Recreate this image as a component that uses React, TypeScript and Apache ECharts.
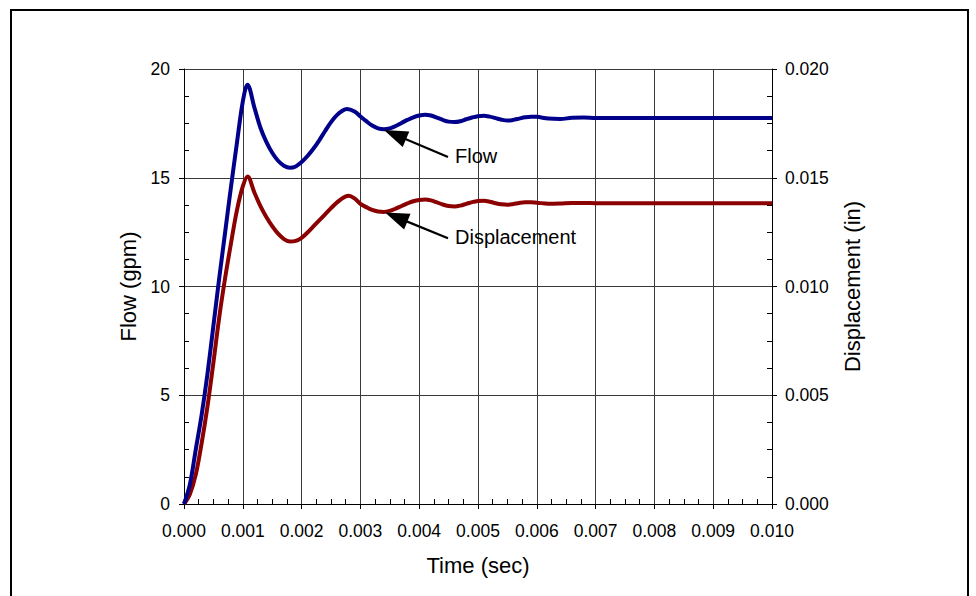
import React, { useEffect, useRef } from "react";
import * as echarts from "echarts";

// Time (sec)
const timeFlow: number[] = [
  0, 0.0001, 0.0002, 0.0003, 0.0004, 0.0005, 0.0006, 0.0007, 0.0008, 0.0009, 0.001, 0.00108,
  0.0012, 0.0013, 0.0014, 0.0015, 0.0016, 0.0017, 0.0018, 0.0019, 0.002, 0.0021, 0.0022,
  0.0023, 0.0024, 0.0025, 0.0026, 0.0027, 0.00277, 0.0029, 0.003, 0.0031, 0.0032, 0.0033, 0.0034,
  0.0035, 0.0036, 0.0037, 0.0038, 0.0039, 0.004, 0.0041, 0.0042, 0.0043, 0.0044, 0.0045, 0.0046,
  0.0047, 0.0048, 0.0049, 0.005, 0.0051, 0.0052, 0.0053, 0.0054, 0.0055, 0.0056, 0.0057, 0.0058,
  0.0059, 0.006, 0.0062, 0.0064, 0.0066, 0.0068, 0.007, 0.0075, 0.008, 0.009, 0.01,
];
// Flow (gpm)
const flowValues: number[] = [
  0, 0.9, 2.5, 4.1, 6.0, 8.2, 10.4, 12.5, 14.6, 16.6, 18.5, 19.28,
  18.2, 17.3, 16.65, 16.15, 15.78, 15.55, 15.46, 15.52, 15.72, 16.0, 16.33,
  16.72, 17.15, 17.56, 17.88, 18.09, 18.16, 18.05, 17.82, 17.6, 17.4, 17.27, 17.23,
  17.27, 17.38, 17.52, 17.66, 17.78, 17.86, 17.9, 17.86, 17.76, 17.66, 17.58, 17.56,
  17.6, 17.69, 17.77, 17.83, 17.85, 17.81, 17.74, 17.67, 17.63, 17.66, 17.72, 17.78,
  17.81, 17.8, 17.72, 17.7, 17.76, 17.77, 17.75, 17.75, 17.75, 17.75, 17.75,
];

const timeDisp: number[] = [
  0, 0.0001, 0.0002, 0.0003, 0.0004, 0.0005, 0.0006, 0.0007, 0.0008, 0.0009, 0.001, 0.00108,
  0.0012, 0.0013, 0.0014, 0.0015, 0.0016, 0.0017, 0.0018, 0.0019, 0.002, 0.0021, 0.0022,
  0.0023, 0.0024, 0.0025, 0.0026, 0.0027, 0.0028, 0.0029, 0.003, 0.0031, 0.0032, 0.0033, 0.0034,
  0.0035, 0.0036, 0.0037, 0.0038, 0.0039, 0.004, 0.0041, 0.0042, 0.0043, 0.0044, 0.0045, 0.0046,
  0.0047, 0.0048, 0.0049, 0.005, 0.0051, 0.0052, 0.0053, 0.0054, 0.0055, 0.0056, 0.0057, 0.0058,
  0.0059, 0.006, 0.0062, 0.0064, 0.0066, 0.0068, 0.007, 0.0075, 0.008, 0.009, 0.01,
];
// Displacement (in)
const dispValues: number[] = [
  0, 0.00045, 0.00135, 0.0028, 0.0045, 0.0065, 0.0086, 0.0104, 0.012, 0.0135, 0.0146, 0.01506,
  0.0143, 0.0137, 0.0132, 0.01278, 0.01243, 0.01218, 0.01207, 0.0121, 0.01224, 0.01248, 0.01276,
  0.01304, 0.01332, 0.0136, 0.01386, 0.01407, 0.01417, 0.01405, 0.0138, 0.01365, 0.01352, 0.01345, 0.01343,
  0.01348, 0.01358, 0.0137, 0.01382, 0.01392, 0.01398, 0.014, 0.01396, 0.01387, 0.01377, 0.0137, 0.01368,
  0.01372, 0.0138, 0.01388, 0.01393, 0.01394, 0.0139, 0.01383, 0.01378, 0.01376, 0.01379, 0.01384, 0.01387,
  0.01387, 0.01385, 0.01381, 0.01382, 0.01384, 0.01384, 0.01383, 0.01383, 0.01383, 0.01383, 0.01383,
];

// Annotation arrows: [tipTime, tipValue, tailTime, tailValue]
const flowArrow: number[] = [0.0034, 17.2, 0.00449, 15.95];
const dispArrow: number[] = [0.00342, 0.0134, 0.00449, 0.01222];
const flowLabel = "Flow";
const dispLabel = "Displacement";

const FONT = "'Liberation Sans', Arial, Helvetica, sans-serif";

function arrowRenderer(label: string) {
  return (params: any, api: any) => {
    const tip = api.coord([api.value(0), api.value(1)]);
    const tail = api.coord([api.value(2), api.value(3)]);
    const dx = tip[0] - tail[0];
    const dy = tip[1] - tail[1];
    const len = Math.sqrt(dx * dx + dy * dy);
    const ux = dx / len;
    const uy = dy / len;
    const headLen = 24;
    const headHalf = 8.5;
    const bx = tip[0] - ux * headLen;
    const by = tip[1] - uy * headLen;
    const px = -uy;
    const py = ux;
    return {
      type: "group",
      children: [
        {
          type: "line",
          shape: { x1: tail[0], y1: tail[1], x2: bx + ux * 2, y2: by + uy * 2 },
          style: { stroke: "#000", lineWidth: 2.2 },
        },
        {
          type: "polygon",
          shape: {
            points: [
              [tip[0], tip[1]],
              [bx + px * headHalf, by + py * headHalf],
              [bx - px * headHalf, by - py * headHalf],
            ],
          },
          style: { fill: "#000" },
        },
        {
          type: "text",
          x: tail[0] + 7,
          y: tail[1] - 1,
          style: {
            text: label,
            fill: "#000",
            font: `20px ${FONT}`,
            textAlign: "left",
            textVerticalAlign: "middle",
          },
        },
      ],
    };
  };
}

export default function App() {
  const ref = useRef<HTMLDivElement>(null);
  useEffect(() => {
    if (!ref.current) return;
    const chart = echarts.init(ref.current, undefined, { renderer: "svg" });
    const axisLabelStyle = { color: "#000", fontSize: 17.5, fontFamily: FONT };
    const nameStyle = { color: "#000", fontSize: 22, fontFamily: FONT };
    chart.setOption({
      animation: false,
      backgroundColor: "#fff",
      grid: { left: 184, right: 204, top: 69, bottom: 92, containLabel: false },
      graphic: [
        {
          type: "rect",
          shape: { x: 11, y: 10, width: 957, height: 620 },
          style: { fill: "none", stroke: "#000", lineWidth: 2 },
          silent: true,
        },
      ],
      xAxis: {
        type: "value",
        min: 0,
        max: 0.01,
        interval: 0.001,
        name: "Time (sec)",
        nameLocation: "middle",
        nameGap: 50,
        nameTextStyle: nameStyle,
        axisLine: { show: true, onZero: false, lineStyle: { color: "#000", width: 1 } },
        axisTick: { show: true, inside: false, length: 5, lineStyle: { color: "#000" } },
        minorTick: { show: true, splitNumber: 4, length: -5, lineStyle: { color: "#000" } },
        axisLabel: { ...axisLabelStyle, margin: 18, formatter: (v: number) => v.toFixed(3) },
        splitLine: { show: true, lineStyle: { color: "#3a3a3a", width: 1 } },
      },
      yAxis: [
        {
          type: "value",
          min: 0,
          max: 20,
          interval: 5,
          position: "left",
          name: "Flow (gpm)",
          nameLocation: "middle",
          nameGap: 42,
          nameRotate: 90,
          nameTextStyle: nameStyle,
          axisLine: { show: true, onZero: false, lineStyle: { color: "#000", width: 1 } },
          axisTick: { show: true, inside: false, length: 5, lineStyle: { color: "#000" } },
          minorTick: { show: true, splitNumber: 4, length: -5, lineStyle: { color: "#000" } },
          axisLabel: { ...axisLabelStyle, margin: 14, formatter: (v: number) => String(v) },
          splitLine: { show: true, lineStyle: { color: "#3a3a3a", width: 1 } },
        },
        {
          type: "value",
          min: 0,
          max: 0.02,
          interval: 0.005,
          position: "right",
          name: "Displacement (in)",
          nameLocation: "middle",
          nameGap: 69,
          nameRotate: 90,
          nameTextStyle: nameStyle,
          axisLine: { show: true, onZero: false, lineStyle: { color: "#000", width: 1 } },
          axisTick: { show: true, inside: false, length: 5, lineStyle: { color: "#000" } },
          minorTick: { show: true, splitNumber: 4, length: -5, lineStyle: { color: "#000" } },
          axisLabel: { ...axisLabelStyle, margin: 13, formatter: (v: number) => v.toFixed(3) },
          splitLine: { show: false },
        },
      ],
      series: [
        {
          name: "Displacement",
          type: "line",
          yAxisIndex: 1,
          data: timeDisp.map((t, i) => [t, dispValues[i]]),
          showSymbol: false,
          smooth: 0.35,
          lineStyle: { color: "#8b0000", width: 4 },
          z: 3,
        },
        {
          name: "Flow",
          type: "line",
          yAxisIndex: 0,
          data: timeFlow.map((t, i) => [t, flowValues[i]]),
          showSymbol: false,
          smooth: 0.35,
          lineStyle: { color: "#00008b", width: 4 },
          z: 4,
        },
        {
          type: "custom",
          yAxisIndex: 0,
          clip: false,
          z: 10,
          renderItem: arrowRenderer(flowLabel),
          data: [flowArrow],
        },
        {
          type: "custom",
          yAxisIndex: 1,
          clip: false,
          z: 10,
          renderItem: arrowRenderer(dispLabel),
          data: [dispArrow],
        },
      ],
    });
    return () => chart.dispose();
  }, []);
  return (
    <div
      ref={ref}
      style={{ position: "fixed", left: 0, top: 0, width: 976, height: 596, background: "#fff" }}
    />
  );
}
